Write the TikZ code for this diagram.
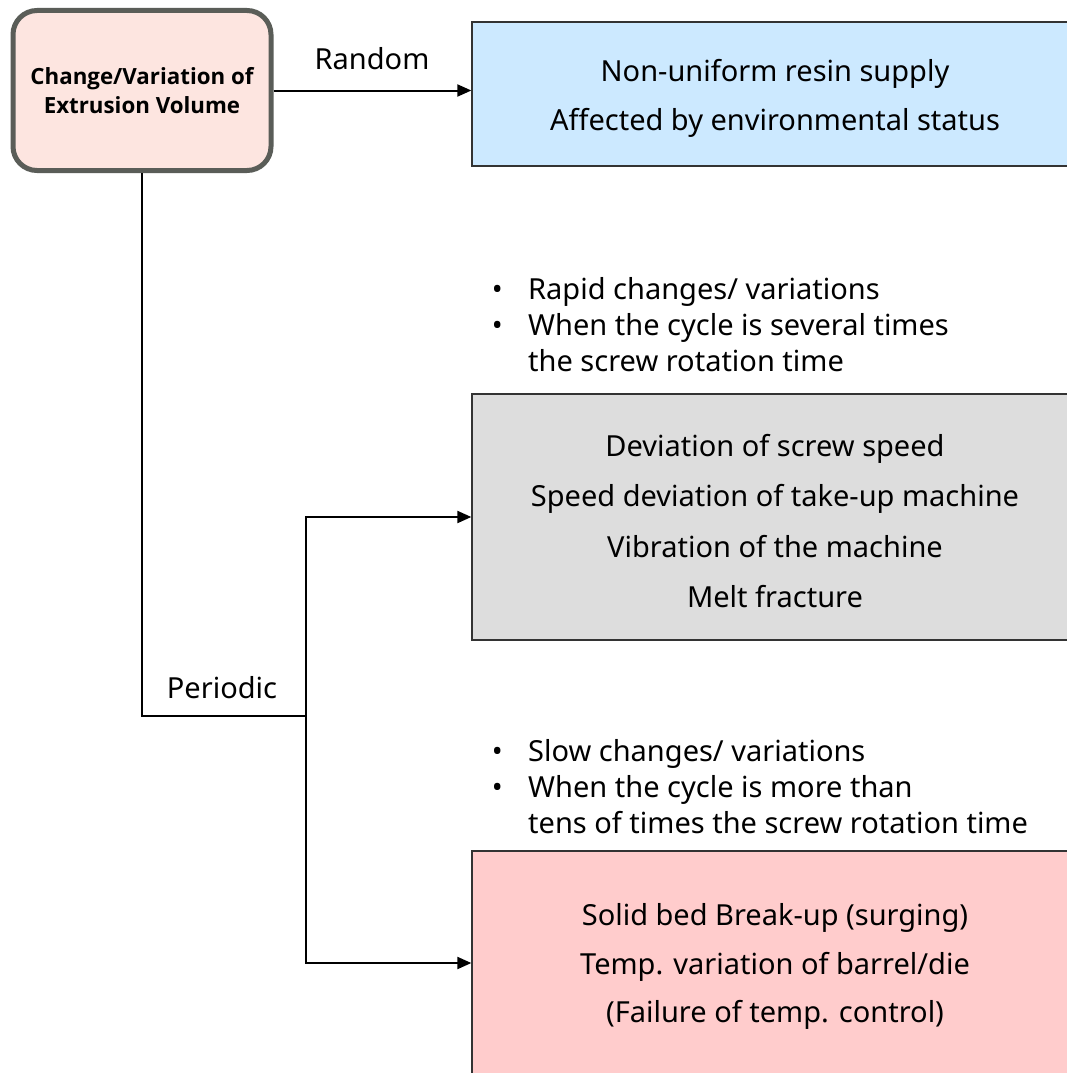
\documentclass[tikz,border=0pt]{standalone}
\usepackage{fontspec}
\setmainfont{Noto Sans}
\newfontfamily\rootfont{Open Sans}
\usetikzlibrary{arrows.meta}
\definecolor{topfill}{HTML}{FDE5E0}
\definecolor{topborder}{HTML}{5A5D58}
\definecolor{bluefill}{HTML}{CCE9FF}
\definecolor{grayfill}{HTML}{DDDDDD}
\definecolor{pinkfill}{HTML}{FFCCCC}
\newcommand{\bul}{\makebox[24pt][c]{\textbullet}\hspace{19pt}}
\newcommand{\bulgap}{\hspace*{43pt}}
\tikzset{
  rootbox/.style={draw=topborder, line width=5pt, fill=topfill, rounded corners=24pt,
    minimum width=258pt, minimum height=160pt, align=center, inner sep=0pt,
    font=\rootfont\bfseries\fontsize{22.3}{29}\selectfont},
  causebox/.style={draw=black!80, line width=1.3pt, minimum width=606pt, inner sep=0pt},
  causetext/.style={align=center, inner sep=0pt, font=\fontsize{29}{48.5}\selectfont},
  conn/.style={line width=2pt, draw=black},
  arr/.style={conn, -{Triangle[length=14pt,width=12pt]}},
  lbl/.style={font=\fontsize{29}{34}\selectfont, inner sep=0pt},
  bullets/.style={font=\fontsize{29}{36}\selectfont, align=left, inner sep=0pt, anchor=north west},
}
\begin{document}
\begin{tikzpicture}[x=1pt,y=-1pt]
\useasboundingbox (0,0) rectangle (1067,1073);
\clip (0,0) rectangle (1067,1073);
\fill[white] (0,0) rectangle (1067,1073);
\node[rootbox] (root) at (142,90.5) {Change/Variation of\\Extrusion Volume};
\node[causebox, fill=bluefill, minimum height=144pt] (random) at (775,94) {};
\node[causetext] (randomtext) at ([yshift=-4.5pt]random.center) {Non-uniform resin supply\\Affected by environmental status};
\node[causebox, fill=grayfill, minimum height=246pt] (rapid) at (775,517) {};
\node[causetext, font=\fontsize{29}{50.3}\selectfont] (rapidtext) at ([yshift=-4pt]rapid.center) {Deviation of screw speed\\Speed deviation of take-up machine\\Vibration of the machine\\Melt fracture};
\node[causebox, fill=pinkfill, minimum height=224pt] (slow) at (775,963) {};
\node[causetext] (slowtext) at ([yshift=-3.5pt]slow.center) {Solid bed Break-up (surging)\\Temp. variation of barrel/die\\(Failure of temp. control)};
\coordinate (split) at (306,716);
\draw[arr] (root.east) -- (root.east -| random.west);
\node[lbl] (lrandom) at (372,59) {Random};
\draw[conn] (root.south) |- (split);
\node[lbl] (lperiodic) at (222,688) {Periodic};
\draw[arr] (split) |- (rapid.west);
\draw[arr] (split) |- (slow.west);
\node[bullets] (brapid) at (485,277) {\bul Rapid changes/ variations\\\bul When the cycle is several times\\\bulgap the screw rotation time};
\node[bullets] (bslow) at (485,739) {\bul Slow changes/ variations\\\bul When the cycle is more than\\\bulgap tens of times the screw rotation time};
\end{tikzpicture}
\end{document}
